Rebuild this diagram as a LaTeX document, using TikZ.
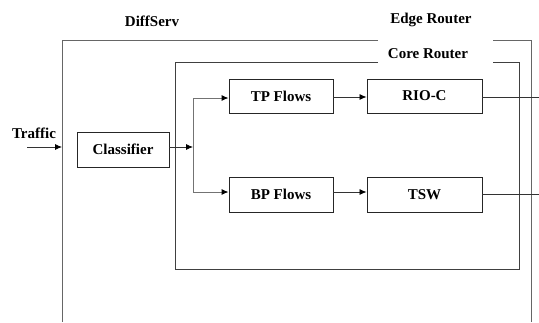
\documentclass[tikz,border=0pt]{standalone}
\usepackage{fontspec}
\setmainfont{Liberation Serif}
\usetikzlibrary{arrows.meta}
\begin{document}
\begin{tikzpicture}[x=1pt,y=-1pt,
  blk/.style={draw=black!85,line width=0.9pt,minimum height=34pt,inner sep=0pt,font=\fontsize{15}{17}\selectfont\bfseries},
  lbl/.style={font=\fontsize{15}{17}\selectfont\bfseries,inner sep=0pt},
  frame/.style={draw=black!60,line width=1pt},
  core/.style={draw=black!75,line width=0.9pt},
  conn/.style={draw=black!80,line width=0.8pt},
  gconn/.style={draw=black!55,line width=1pt},
  arr/.style={-{Latex[length=7pt,width=6pt,color=black]}}]
\useasboundingbox (0,0) rectangle (539,322);
% labels
\node[lbl] (diffserv) at (152,21) {DiffServ};
\node[lbl] (edge) at (431,20) {Edge Router};
\node[lbl] (corel) at (428,54) {Core Router};
\node[lbl] (traffic) at (34,133) {Traffic};
% frames
\draw[frame] (378,40) -- (62,40) -- (62,322);
\draw[frame] (493,40) -- (531,40) -- (531,322);
\draw[core] (378,62) -- (175,62) -- (175,269) -- (519,269) -- (519,62) -- (493,62);
% blocks
\node[blk,minimum width=92pt,minimum height=35pt] (cls) at (123,149.5) {Classifier};
\node[blk,minimum width=104pt] (tp) at (281,96) {TP Flows};
\node[blk,minimum width=115pt] (rio) at (424.5,96) {RIO-C};
\node[blk,minimum width=104pt,minimum height=35pt] (bp) at (281,194.5) {BP Flows};
\node[blk,minimum width=115pt,minimum height=35pt] (tsw) at (424.5,194.5) {TSW};
% coordinates
\coordinate (tin) at (27,147);
\coordinate (tend) at (62,147);
\coordinate (sp) at (193,147);
\coordinate (spt) at (193,98);
\coordinate (spb) at (193,192);
\coordinate (o1) at (539,97);
\coordinate (o2) at (539,194.5);
% connectors
\draw[conn,arr] (tin) -- (tend);
\draw[conn,arr] (cls.east |- sp) -- (sp);
\draw[gconn] (spt) -- (spb);
\draw[gconn,arr] (spt) -- (tp.west |- spt);
\draw[gconn,arr] (spb) -- (bp.west |- spb);
\draw[conn,arr] (tp.east |- 0,97) -- (rio.west |- 0,97);
\draw[conn,arr] (bp.east |- 0,192) -- (tsw.west |- 0,192);
\draw[conn] (rio.east |- o1) -- (o1);
\draw[conn] (tsw.east |- o2) -- (o2);
\end{tikzpicture}
\end{document}
